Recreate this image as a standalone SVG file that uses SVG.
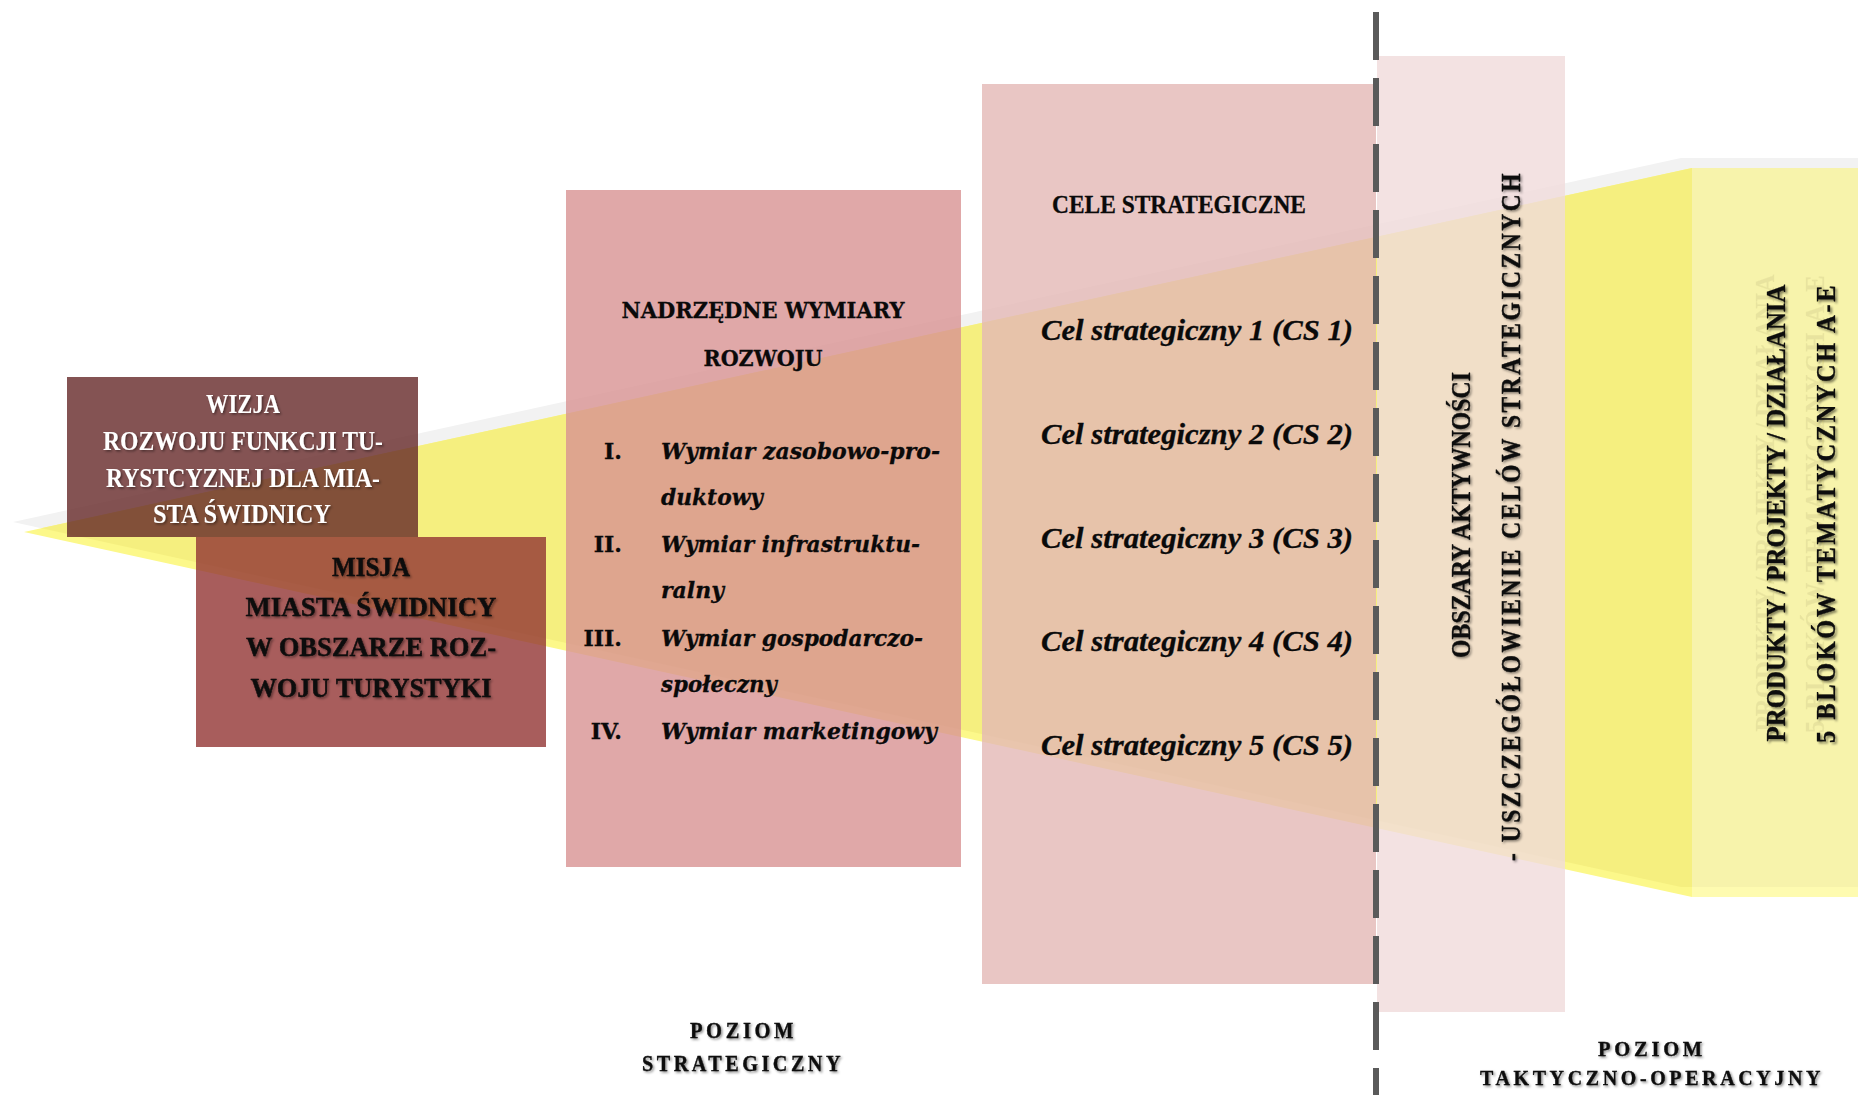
<svg xmlns="http://www.w3.org/2000/svg" width="1858" height="1095" viewBox="0 0 1858 1095">
<style>
  .box { opacity: 0.8; }
  .b { font-family: "Liberation Serif", "Times New Roman", serif; font-weight: bold; }
  .bi { font-family: "Liberation Serif", "Times New Roman", serif; font-weight: bold; font-style: italic; }
  .dj { font-family: "DejaVu Serif", serif; font-weight: bold; }
  .dji { font-family: "DejaVu Serif", serif; font-weight: bold; font-style: italic; }
  .w { fill: #ffffff; }
  .k { fill: #0a0a0a; stroke: #0a0a0a; stroke-width: 0.3; }
</style>
<defs>
  <filter id="sh" x="-10%" y="-20%" width="120%" height="140%">
    <feDropShadow dx="1.5" dy="1.5" stdDeviation="1.2" flood-color="#000" flood-opacity="0.45"/>
  </filter>
  <filter id="ghost" x="-30%" y="-10%" width="160%" height="120%">
    <feOffset in="SourceAlpha" dx="-11" dy="-10" result="off"/>
    <feFlood flood-color="#7a7440" flood-opacity="0.12" result="c"/>
    <feComposite in="c" in2="off" operator="in" result="gh"/>
    <feGaussianBlur in="SourceAlpha" stdDeviation="1.2" result="b"/>
    <feOffset in="b" dx="1.5" dy="1.5" result="bo"/>
    <feFlood flood-color="#000" flood-opacity="0.45" result="c2"/>
    <feComposite in="c2" in2="bo" operator="in" result="sd"/>
    <feMerge><feMergeNode in="gh"/><feMergeNode in="sd"/><feMergeNode in="SourceGraphic"/></feMerge>
  </filter>
  <clipPath id="shClip">
    <polygon points="13,522 1681,158 1681,887"/>
    <rect x="1681" y="158" width="200" height="729"/>
  </clipPath>
</defs>

<g id="funnel">
  <polygon points="13,522 1681,158 1681,887" fill="#F2F2F2"/>
  <rect x="1681" y="158" width="200" height="729" fill="#F2F2F2"/>
  <polygon points="24,532 1692,168 1692,897" fill="#FCF88A"/>
  <rect x="1692" y="168" width="166" height="729" fill="#FEFBB0"/>
  <g clip-path="url(#shClip)">
    <polygon points="24,532 1692,168 1692,897" fill="#F5EF7F"/>
    <rect x="1692" y="168" width="166" height="729" fill="#F7F3AB"/>
  </g>
</g>

<g id="wizja">
  <rect class="box" x="67" y="377" width="351" height="160" fill="#652828"/>
  <g filter="url(#sh)" class="b w" font-size="27" text-anchor="middle">
    <text x="243" y="413" textLength="74" lengthAdjust="spacingAndGlyphs">WIZJA</text>
    <text x="243" y="450" textLength="280" lengthAdjust="spacingAndGlyphs">ROZWOJU FUNKCJI TU-</text>
    <text x="243" y="487" textLength="274" lengthAdjust="spacingAndGlyphs">RYSTCYZNEJ DLA MIA-</text>
    <text x="242" y="523" textLength="178" lengthAdjust="spacingAndGlyphs">STA ŚWIDNICY</text>
  </g>
</g>

<g id="misja">
  <rect class="box" x="196" y="537" width="350" height="210" fill="#923433"/>
  <g filter="url(#sh)" class="b k" font-size="28" text-anchor="middle">
    <text x="371" y="576" textLength="78" lengthAdjust="spacingAndGlyphs">MISJA</text>
    <text x="371" y="616" textLength="251" lengthAdjust="spacingAndGlyphs">MIASTA ŚWIDNICY</text>
    <text x="371" y="656" textLength="250" lengthAdjust="spacingAndGlyphs">W OBSZARZE ROZ-</text>
    <text x="371" y="697" textLength="241" lengthAdjust="spacingAndGlyphs">WOJU TURYSTYKI</text>
  </g>
</g>

<g id="wymiary">
  <rect class="box" x="566" y="190" width="395" height="677" fill="#D89292"/>
  <g class="dj k" font-size="22" text-anchor="middle">
    <text x="763" y="318" textLength="283" lengthAdjust="spacingAndGlyphs">NADRZĘDNE WYMIARY</text>
    <text x="763" y="366" textLength="119" lengthAdjust="spacingAndGlyphs">ROZWOJU</text>
  </g>
  <g class="dj k" font-size="22" text-anchor="end">
    <text x="622" y="459">I.</text>
    <text x="622" y="552">II.</text>
    <text x="622" y="646">III.</text>
    <text x="622" y="739">IV.</text>
  </g>
  <g class="dji k" font-size="22.5">
    <text x="661" y="459" textLength="279" lengthAdjust="spacingAndGlyphs">Wymiar zasobowo-pro-</text>
    <text x="661" y="505" textLength="102" lengthAdjust="spacingAndGlyphs">duktowy</text>
    <text x="661" y="552" textLength="259" lengthAdjust="spacingAndGlyphs">Wymiar infrastruktu-</text>
    <text x="661" y="598" textLength="63" lengthAdjust="spacingAndGlyphs">ralny</text>
    <text x="661" y="646" textLength="262" lengthAdjust="spacingAndGlyphs">Wymiar gospodarczo-</text>
    <text x="661" y="692" textLength="116" lengthAdjust="spacingAndGlyphs">społeczny</text>
    <text x="661" y="739" textLength="276" lengthAdjust="spacingAndGlyphs">Wymiar marketingowy</text>
  </g>
</g>

<g id="cele">
  <rect class="box" x="982" y="84" width="394" height="900" fill="#E4B8B5"/>
  <text class="b k" font-size="25" x="1179" y="213" text-anchor="middle" textLength="254" lengthAdjust="spacingAndGlyphs">CELE STRATEGICZNE</text>
  <g class="bi k" font-size="29">
    <text x="1041" y="340" textLength="312" lengthAdjust="spacingAndGlyphs">Cel strategiczny 1 (CS 1)</text>
    <text x="1041" y="444" textLength="312" lengthAdjust="spacingAndGlyphs">Cel strategiczny 2 (CS 2)</text>
    <text x="1041" y="548" textLength="312" lengthAdjust="spacingAndGlyphs">Cel strategiczny 3 (CS 3)</text>
    <text x="1041" y="651" textLength="312" lengthAdjust="spacingAndGlyphs">Cel strategiczny 4 (CS 4)</text>
    <text x="1041" y="755" textLength="312" lengthAdjust="spacingAndGlyphs">Cel strategiczny 5 (CS 5)</text>
  </g>
</g>

<g id="obszary">
  <rect class="box" x="1377" y="56" width="188" height="956" fill="#F0DBDB"/>
  <g filter="url(#sh)" class="b k" font-size="28" text-anchor="middle">
    <text transform="translate(1470,515) rotate(-90)" x="0" y="0" textLength="286" lengthAdjust="spacingAndGlyphs">OBSZARY AKTYWNOŚCI</text>
    <text transform="translate(1520,516) rotate(-90)" x="0" y="0" letter-spacing="3" textLength="690" lengthAdjust="spacingAndGlyphs">- USZCZEGÓŁOWIENIE CELÓW STRATEGICZNYCH</text>
  </g>
</g>

<g id="produkty">
  <g filter="url(#ghost)" class="b k" font-size="28" text-anchor="middle">
    <text transform="translate(1785,513) rotate(-90)" x="0" y="0" textLength="457" lengthAdjust="spacingAndGlyphs">PRODUKTY / PROJEKTY / DZIAŁANIA</text>
    <text transform="translate(1835,513) rotate(-90)" x="0" y="0" letter-spacing="3" textLength="460" lengthAdjust="spacingAndGlyphs">5 BLOKÓW TEMATYCZNYCH A-E</text>
  </g>
</g>

<g id="divider">
  <line x1="1376" y1="12" x2="1376" y2="1095" stroke="#5A5A5A" stroke-width="6" stroke-dasharray="48 18"/>
</g>

<g id="poziom-strategiczny" filter="url(#sh)" class="b k" font-size="23">
  <text x="690" y="1038" letter-spacing="4" textLength="107" lengthAdjust="spacingAndGlyphs">POZIOM</text>
  <text x="642" y="1071" letter-spacing="4" textLength="202" lengthAdjust="spacingAndGlyphs">STRATEGICZNY</text>
</g>

<g id="poziom-taktyczny" filter="url(#sh)" class="b k" font-size="22">
  <text x="1598" y="1056" letter-spacing="4" textLength="108" lengthAdjust="spacingAndGlyphs">POZIOM</text>
  <text x="1480" y="1085" letter-spacing="4" textLength="344" lengthAdjust="spacingAndGlyphs">TAKTYCZNO-OPERACYJNY</text>
</g>
</svg>
